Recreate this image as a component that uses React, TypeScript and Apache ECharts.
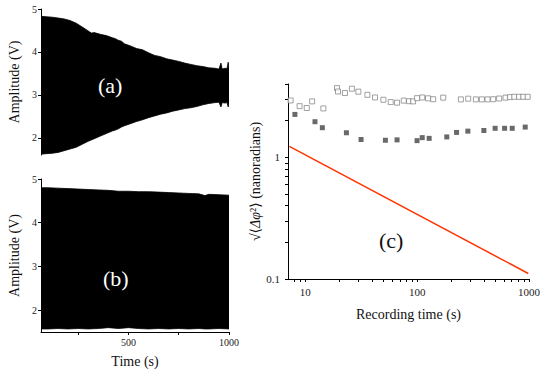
import React, { useEffect, useRef } from 'react';
import * as echarts from 'echarts';

// Panel (a): amplitude envelope, decaying
const timeA = [65, 90, 120, 150, 180, 210, 240, 270, 300, 315, 330, 360, 390, 420, 435, 450, 465, 480, 510, 540, 570, 600, 630, 660, 690, 720, 750, 780, 810, 840, 870, 900, 930, 950, 960, 966, 980, 990, 996, 1000];
const upperA = [4.83, 4.82, 4.81, 4.79, 4.77, 4.73, 4.67, 4.58, 4.49, 4.44, 4.45, 4.41, 4.38, 4.33, 4.31, 4.27, 4.25, 4.19, 4.14, 4.08, 4.05, 3.98, 3.92, 3.89, 3.84, 3.81, 3.78, 3.74, 3.71, 3.68, 3.66, 3.63, 3.62, 3.60, 3.74, 3.60, 3.62, 3.61, 3.76, 3.62];
const lowerA = [1.62, 1.63, 1.64, 1.66, 1.70, 1.74, 1.78, 1.85, 1.92, 1.95, 1.98, 2.04, 2.10, 2.16, 2.18, 2.21, 2.25, 2.28, 2.33, 2.38, 2.42, 2.47, 2.51, 2.55, 2.58, 2.62, 2.65, 2.68, 2.70, 2.73, 2.77, 2.80, 2.82, 2.83, 2.72, 2.82, 2.81, 2.82, 2.72, 2.80];

// Panel (b): amplitude envelope, nearly constant
const timeB = [65, 100, 150, 200, 250, 300, 350, 400, 450, 500, 550, 600, 650, 700, 750, 800, 850, 880, 900, 950, 1000];
const upperB = [4.80, 4.80, 4.79, 4.78, 4.77, 4.76, 4.75, 4.74, 4.72, 4.72, 4.71, 4.71, 4.70, 4.69, 4.68, 4.67, 4.66, 4.62, 4.65, 4.64, 4.63];
const lowerB = [1.57, 1.57, 1.58, 1.57, 1.58, 1.57, 1.58, 1.60, 1.58, 1.60, 1.58, 1.57, 1.58, 1.57, 1.58, 1.57, 1.58, 1.57, 1.57, 1.58, 1.57];

// Panel (c): phase noise vs recording time
const openT = [7.39, 8.89, 10.3, 11.5, 14.5, 19.2, 19.6, 22.6, 26.1, 29.8, 35.9, 42.0, 49.9, 58.0, 66.1, 75.9, 84.6, 91.9, 99.8, 111, 125, 139, 171, 246, 286, 335, 379, 426, 478, 541, 617, 675, 738, 813, 888, 973];
const openV = [2.93, 2.63, 2.54, 2.88, 2.52, 3.70, 3.47, 3.37, 3.66, 3.46, 3.26, 3.10, 2.97, 2.84, 2.81, 2.92, 2.89, 2.88, 3.06, 3.10, 3.05, 3.00, 3.09, 2.99, 3.03, 2.99, 2.99, 2.99, 3.00, 3.04, 3.09, 3.12, 3.14, 3.14, 3.14, 3.14];
const filledT = [8.07, 12.2, 14.2, 23.3, 31.5, 52.0, 66.1, 99.8, 111, 128, 184, 225, 284, 395, 498, 605, 708, 925];
const filledV = [2.25, 1.96, 1.75, 1.59, 1.40, 1.38, 1.39, 1.37, 1.45, 1.43, 1.47, 1.60, 1.64, 1.66, 1.73, 1.73, 1.73, 1.77];
const fitT = [7.2, 985];
const fitV = [1.23, 0.111];

const ampTicks = [2, 3, 4, 5];
const timeTicks = [250, 500, 750, 1000];
const timeLabels = [500, 1000];
const logXLabels = [10, 100, 1000];
const logXTicks = [8, 9, 10, 20, 30, 40, 50, 60, 70, 80, 90, 100, 200, 300, 400, 500, 600, 700, 800, 900, 1000];
const logYLabels = [0.1, 1];
const logYTicks = [0.1, 0.2, 0.3, 0.4, 0.5, 0.6, 0.7, 0.8, 0.9, 1, 2, 3, 4];

const FONT = '"Liberation Serif", "DejaVu Serif", serif';

function zip(a: number[], b: number[]) {
  return a.map((v, i) => [v, b[i]]);
}

function envelopeSeries(t: number[], up: number[], lo: number[], gi: number) {
  return {
    type: 'custom',
    xAxisIndex: gi,
    yAxisIndex: gi,
    silent: true,
    clip: true,
    data: t.map((v, i) => [v, up[i], lo[i]]),
    encode: { x: 0, y: [1, 2] },
    renderItem: (params: any, api: any) => {
      if (params.dataIndex !== 0) return null;
      const pts: number[][] = [];
      for (let i = 0; i < t.length; i++) pts.push(api.coord([t[i], up[i]]));
      for (let i = t.length - 1; i >= 0; i--) pts.push(api.coord([t[i], lo[i]]));
      return {
        type: 'polygon',
        shape: { points: pts },
        style: { fill: '#000', stroke: '#000', lineWidth: 0.8 },
      };
    },
  };
}

export default function App() {
  const ref = useRef<HTMLDivElement>(null);
  useEffect(() => {
    if (!ref.current) return;
    const chart = echarts.init(ref.current, undefined, { renderer: 'svg' });
    const axisLine = { show: true, lineStyle: { color: '#000', width: 1 } };
    const plain = (v: number) => String(v);
    const ampY = (gi: number, min: number) => ({
      type: 'value',
      gridIndex: gi,
      min,
      max: 5,
      name: 'Amplitude (V)',
      nameLocation: 'middle',
      nameGap: 20,
      nameTextStyle: { fontFamily: FONT, fontSize: 14, color: '#111' },
      axisLine,
      axisTick: { show: true, length: 3, customValues: ampTicks, lineStyle: { color: '#000' } },
      axisLabel: { customValues: ampTicks, formatter: plain, fontFamily: FONT, fontSize: 10, color: '#222', margin: 4 },
      splitLine: { show: false },
    });
    const option: any = {
      animation: false,
      grid: [
        { left: 41, right: 321, top: 9, bottom: 218 },
        { left: 41, right: 321, top: 179, bottom: 41 },
        { left: 288, right: 21, top: 84, bottom: 94 },
      ],
      xAxis: [
        { type: 'value', gridIndex: 0, min: 65, max: 1000, show: false },
        {
          type: 'value', gridIndex: 1, min: 65, max: 1000,
          name: 'Time (s)', nameLocation: 'middle', nameGap: 22,
          nameTextStyle: { fontFamily: FONT, fontSize: 14, color: '#111' },
          axisLine,
          axisTick: { show: true, length: 3, customValues: timeTicks, lineStyle: { color: '#000' } },
          axisLabel: { customValues: timeLabels, formatter: plain, fontFamily: FONT, fontSize: 10, color: '#222', margin: 5 },
          splitLine: { show: false },
        },
        {
          type: 'log', gridIndex: 2, min: 7, max: 1000, logBase: 10, position: 'bottom',
          name: 'Recording time (s)', nameLocation: 'middle', nameGap: 28,
          nameTextStyle: { fontFamily: FONT, fontSize: 14, color: '#111' },
          axisLine,
          axisTick: { show: true, length: 3, customValues: logXTicks, lineStyle: { color: '#000' } },
          axisLabel: { customValues: logXLabels, formatter: plain, fontFamily: FONT, fontSize: 11, color: '#222', margin: 7 },
          splitLine: { show: false },
        },
      ],
      yAxis: [
        ampY(0, 1.6),
        ampY(1, 1.5),
        {
          type: 'log', gridIndex: 2, min: 0.1, max: 4, logBase: 10, position: 'left',
          name: '√⟨{i|Δφ}²⟩ (nanoradians)', nameLocation: 'middle', nameGap: 4,
          nameTextStyle: { fontFamily: FONT, fontSize: 14, color: '#111', rich: { i: { fontFamily: FONT, fontSize: 14, fontStyle: 'italic', color: '#111' } } },
          axisLine,
          axisTick: { show: true, length: 3, customValues: logYTicks, lineStyle: { color: '#000' } },
          axisLabel: { customValues: logYLabels, formatter: plain, fontFamily: FONT, fontSize: 11, color: '#222', margin: 8 },
          splitLine: { show: false },
        },
      ],
      series: [
        envelopeSeries(timeA, upperA, lowerA, 0),
        envelopeSeries(timeB, upperB, lowerB, 1),
        {
          type: 'scatter', xAxisIndex: 2, yAxisIndex: 2, symbol: 'rect', symbolSize: 5,
          data: zip(openT, openV),
          itemStyle: { color: '#fff', borderColor: '#8a8a8a', borderWidth: 1 },
        },
        {
          type: 'scatter', xAxisIndex: 2, yAxisIndex: 2, symbol: 'rect', symbolSize: 5,
          data: zip(filledT, filledV),
          itemStyle: { color: '#444', borderColor: '#444', borderWidth: 0 },
        },
        {
          type: 'line', xAxisIndex: 2, yAxisIndex: 2, symbol: 'none',
          data: zip(fitT, fitV), lineStyle: { color: '#ff3300', width: 1.5 },
        },
      ],
      graphic: [
        { type: 'text', left: 110 - 12, top: 87 - 13, z: 100, style: { text: '(a)', fill: '#fff', font: `22px ${FONT}` } },
        { type: 'text', left: 115 - 12, top: 280 - 13, z: 100, style: { text: '(b)', fill: '#fff', font: `22px ${FONT}` } },
        { type: 'text', left: 391 - 12, top: 242 - 13, z: 100, style: { text: '(c)', fill: '#111', font: `22px ${FONT}` } },
      ],
    };
    chart.setOption(option);
    return () => chart.dispose();
  }, []);
  return <div ref={ref} style={{ position: 'fixed', left: 0, top: 0, width: 550, height: 373, background: '#fff' }} />;
}
